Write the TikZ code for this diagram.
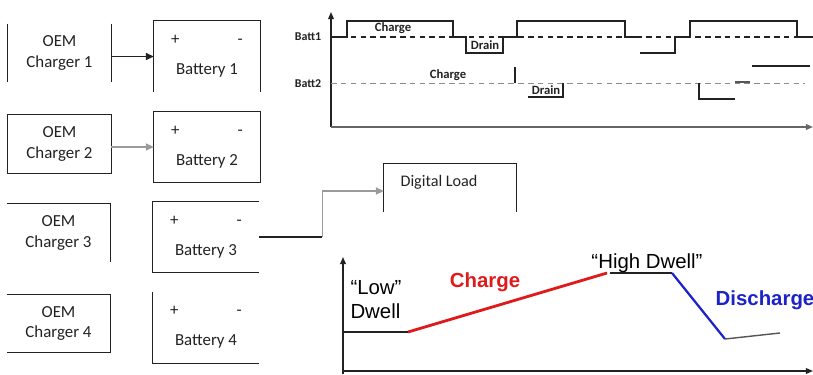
\documentclass[tikz,border=0pt]{standalone}
\usepackage{fontspec}
\setmainfont{Carlito}
\newfontfamily\arialfont{Liberation Sans}
\usetikzlibrary{positioning,arrows.meta}
\definecolor{Ink}{HTML}{222222}
\definecolor{Wire}{HTML}{9A9A9A}
\definecolor{ChgRed}{HTML}{E01A1A}
\definecolor{DisBlue}{HTML}{1C22C8}
\definecolor{Trace}{HTML}{555555}
\newcommand{\poles}{+\hspace{1.45cm}-}

\begin{document}
\begin{tikzpicture}[x=0.025cm,y=-0.025cm,
    chg/.style={minimum width=2.575cm,minimum height=1.45cm,inner sep=0pt,
                font=\fontsize{12}{14.5}\selectfont,align=center,text=Ink},
    bat/.style={minimum width=2.65cm,minimum height=1.775cm,inner sep=0pt,
                font=\fontsize{12}{14.5}\selectfont,align=center,text=Ink},
    side/.style={draw=Ink,line width=0.9pt},
    arr/.style={-{Triangle[length=5.5pt,width=5pt]},line width=0.9pt,color=Ink},
    garr/.style={arr,color=Wire},
    axis/.style={-{Triangle[length=5pt,width=4pt]},line width=1pt,color=Ink},
    sig/.style={line width=0.8pt,color=Ink},
    tag/.style={font=\bfseries\fontsize{8.5}{10}\selectfont,inner sep=1pt,text=Ink},
    big/.style={font=\arialfont\fontsize{14.5}{17}\selectfont,align=left,inner sep=0pt},
    bigb/.style={font=\arialfont\bfseries\fontsize{14.5}{17}\selectfont,inner sep=0pt}
  ]
  \useasboundingbox (0,0) rectangle (813,374);
  % chargers and batteries
  \node[chg] (ch1) at (59.5,53)  {OEM\\Charger 1};
  \node[chg] (ch2) at (59.5,144) {OEM\\Charger 2};
  \node[chg] (ch3) at (58.5,233) {OEM\\Charger 3};
  \node[chg] (ch4) at (58.5,323.5) {OEM\\Charger 4};
  \node[bat] (b1) at (207,56.5) {\poles\\[7pt]Battery 1};
  \node[bat] (b2) at (207,147)  {\poles\\[7pt]Battery 2};
  \node[bat] (b3) at (206,237)  {\poles\\[7pt]Battery 3};
  \node[bat] (b4) at (206,327.5) {\poles\\[7pt]Battery 4};
  \node[minimum width=3.3cm,minimum height=1.2cm,inner sep=0pt] (load) at (450,188) {};
  \node[font=\fontsize{11.5}{14}\selectfont,text=Ink] (loadtxt) at (439,182) {Digital Load};
  \draw[side] (ch1.north west) -- (ch1.south west) (ch1.north east) -- (ch1.south east);
  \draw[side] (ch2.north west) rectangle (ch2.south east);
  \draw[side] (ch3.north west) -- (ch3.north east) -- (ch3.south east);
  \draw[side] (ch4.north west) -- (ch4.north east) -- (ch4.south east) -- (ch4.south west);
  \draw[side] (b1.south west) -- (b1.north west) -- (b1.north east) -- (b1.south east);
  \draw[side] (b2.north west) rectangle (b2.south east);
  \draw[side] (b3.north east) -- (b3.north west) -- (b3.south west) -- (b3.south east);
  \draw[side] (b4.north west) -- (b4.south west) -- (b4.south east);
  \draw[side] (load.south west) -- (load.north west) -- (load.north east) -- (load.south east);
  \draw[arr]  (b1.west -| ch1.east) -- (b1.west);
  \draw[garr] (b2.west -| ch2.east) -- (b2.west);
  \draw[side] (b3.east) -- ++(63,0) coordinate (bend);
  \draw[garr] (bend) |- ([yshift=-0.075cm]load.west);
  % upper timing chart
  \coordinate (o1) at (331,127);
  \draw[axis] (o1) -- (331,12);
  \draw[axis,color=black!60] (o1) -- (813,127);
  \node[tag] (b1lab) at (308,37) {Batt1};
  \node[tag] (b2lab) at (308,84) {Batt2};
  \draw[line width=1.1pt,dash pattern=on 4pt off 3pt,Ink] (331,37) -- (813,37);
  \draw[line width=0.7pt,dash pattern=on 4pt off 3pt,black!45] (331,83) -- (805,83);
  \draw[sig] (332,37) -- (347,37) -- (347,21) -- (453,21) -- (453,37) -- (466,37)
    -- (466,53) -- (503,53) -- (503,37) -- (517,37) -- (517,21) -- (625,21)
    -- (625,37) -- (637,37);
  \draw[sig] (640,53) -- (675,53) -- (675,37) -- (690,37) -- (690,21) -- (797,21)
    -- (797,37) -- (813,37);
  \draw[sig] (752,66) -- (810,66);
  \node[tag,font=\bfseries\fontsize{9}{11}\selectfont] (c1) at (393,28) {Charge};
  \node[tag,font=\bfseries\fontsize{9}{11}\selectfont] (d1) at (485,45) {Drain};
  \node[tag,font=\bfseries\fontsize{9}{11}\selectfont] (c2) at (448,75) {Charge};
  \node[tag,font=\bfseries\fontsize{9}{11}\selectfont] (d2) at (546,90) {Drain};
  \draw[sig] (515,67) -- (515,83);
  \draw[sig] (528,97) -- (563,97) -- (563,83);
  \draw[sig] (699,83) -- (699,99) -- (735,99);
  \draw[sig,color=Trace] (735,82) -- (750,82);
  % lower dwell chart
  \coordinate (o2) at (343,371);
  \draw[axis] (343,374) -- (343,257);
  \draw[axis] (o2) -- (813,371);
  \draw[line width=1pt,Ink] (343,332) -- (408,332);
  \draw[line width=2pt,ChgRed] (408,332) -- (607,273);
  \draw[line width=1pt,Ink] (610,273) -- (672,273);
  \draw[line width=1.6pt,DisBlue] (672,273) -- (725,339);
  \draw[line width=1pt,Trace] (725,339) -- (780,333);
  \node[big] (low) at (376,300) {“Low”\\Dwell};
  \node[bigb,text=ChgRed] (chglab) at (485,282) {Charge};
  \node[big] (high) at (647,263) {“High Dwell”};
  \node[bigb,text=DisBlue] (dis) at (765,300) {Discharge};
\end{tikzpicture}
\end{document}
